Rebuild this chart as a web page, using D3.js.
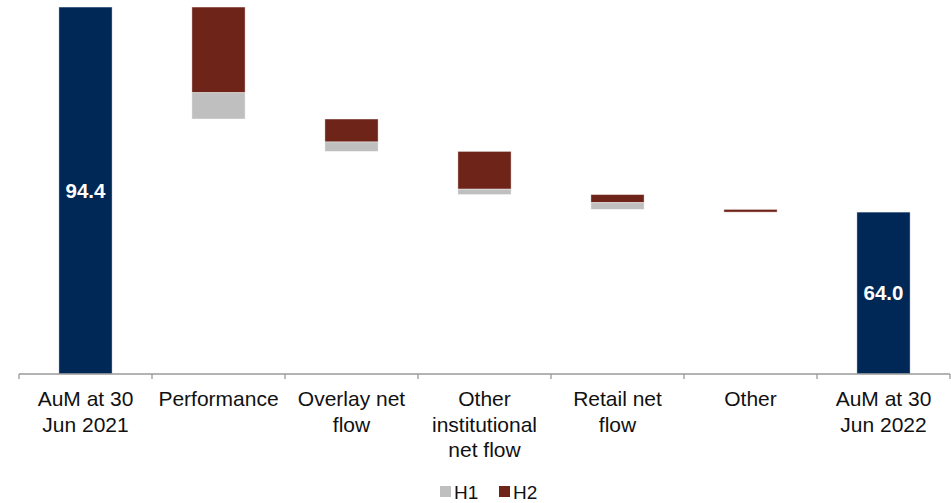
<!DOCTYPE html>
<html>
<head>
<meta charset="utf-8">
<script src="https://cdn.jsdelivr.net/npm/d3@7"></script>
<style>
  body { margin: 0; background: #fff; }
  text { font-family: "Liberation Sans", Arial, sans-serif; }
</style>
</head>
<body>
<div id="chart"></div>
<script>
// Waterfall data (EUR bn)
const categories = ['AuM at 30 Jun 2021', 'Performance', 'Overlay net flow',
  'Other institutional net flow', 'Retail net flow', 'Other', 'AuM at 30 Jun 2022'];
const labelLines = [['AuM at 30', 'Jun 2021'], ['Performance'], ['Overlay net', 'flow'],
  ['Other', 'institutional', 'net flow'], ['Retail net', 'flow'], ['Other'], ['AuM at 30', 'Jun 2022']];
const totals = [94.4, null, null, null, null, null, 64.0];
const h2 = [0, -12.7, -3.4, -5.6, -1.2, -0.4, 0];
const h1 = [0, -3.9, -1.4, -0.8, -1.0, 0, 0];

const width = 951;
const height = 503;
const margin = {top: 3, right: 1, bottom: 129, left: 19};

const colorTotal = '#002856';
const colorH2 = '#6E2419';
const colorH1 = '#BFBFBF';

const svg = d3.select('#chart').append('svg')
    .attr('width', width)
    .attr('height', height);

const x = d3.scaleBand()
    .domain(categories)
    .range([margin.left, width - margin.right])
    .paddingInner(0.6)
    .paddingOuter(0.3);

const y = d3.scaleLinear()
    .domain([40, 95])
    .range([height - margin.bottom, margin.top]);

// build segments
let segs = [];
let running = 0;
categories.forEach(function(c, i) {
  if (totals[i] !== null) {
    running = totals[i];
    segs.push({cat: c, y0: 40, y1: totals[i], color: colorTotal, total: true, value: totals[i]});
  } else {
    let top = running;
    let mid = top + h2[i];
    let bot = mid + h1[i];
    segs.push({cat: c, y0: mid, y1: top, color: colorH2});
    if (h1[i] !== 0) segs.push({cat: c, y0: bot, y1: mid, color: colorH1});
    running = bot;
  }
});

svg.append('g').selectAll('rect')
    .data(segs)
  .enter()
  .append('rect')
    .attr('x', function(d) { return x(d.cat); })
    .attr('width', x.bandwidth())
    .attr('y', function(d) { return y(Math.max(d.y0, d.y1)); })
    .attr('height', function(d) { return Math.abs(y(d.y0) - y(d.y1)); })
    .attr('fill', function(d) { return d.color; })
    .attr('stroke', '#fff')
    .attr('stroke-opacity', 0.5)
    .attr('stroke-width', 0.8);

svg.append('g').selectAll('text')
    .data(segs.filter(function(d) { return d.total; }))
  .enter()
  .append('text')
    .attr('x', function(d) { return x(d.cat) + x.bandwidth() / 2; })
    .attr('y', function(d) { return (y(d.y0) + y(d.y1)) / 2; })
    .attr('dy', '0.35em')
    .attr('text-anchor', 'middle')
    .attr('fill', '#fff')
    .attr('font-weight', 'bold')
    .attr('font-size', 20.5)
    .text(function(d) { return d.value.toFixed(1); });

// axis: tick marks at band boundaries
const step = x.step();
const axisY = y(40);
const axis = svg.append('g').attr('stroke', '#9a9a9a').attr('stroke-width', 1.3);
axis.append('line')
    .attr('x1', margin.left).attr('x2', width - margin.right)
    .attr('y1', axisY).attr('y2', axisY);
d3.range(categories.length + 1).forEach(function(i) {
  const tx = margin.left + i * step;
  axis.append('line')
      .attr('x1', tx).attr('x2', tx)
      .attr('y1', axisY).attr('y2', axisY + 5);
});

const labels = svg.append('g').selectAll('text')
    .data(categories)
  .enter()
  .append('text')
    .attr('text-anchor', 'middle')
    .attr('font-size', 21)
    .attr('fill', '#111');
labels.each(function(c, i) {
  const t = d3.select(this);
  labelLines[i].forEach(function(line, j) {
    t.append('tspan')
        .attr('x', x(c) + x.bandwidth() / 2)
        .attr('y', axisY + 32 + j * 25.5)
        .text(line);
  });
});

// legend
const legendItems = [{name: 'H1', color: colorH1}, {name: 'H2', color: colorH2}];
const legend = svg.append('g').attr('transform', 'translate(440,486)');
legendItems.forEach(function(d, i) {
  const g = legend.append('g').attr('transform', 'translate(' + (i * 59) + ',0)');
  g.append('rect').attr('width', 11).attr('height', 11).attr('fill', d.color);
  g.append('text')
      .attr('x', 14).attr('y', 6).attr('dy', '0.35em')
      .attr('font-size', 19).attr('fill', '#111')
      .text(d.name);
});
</script>
</body>
</html>
